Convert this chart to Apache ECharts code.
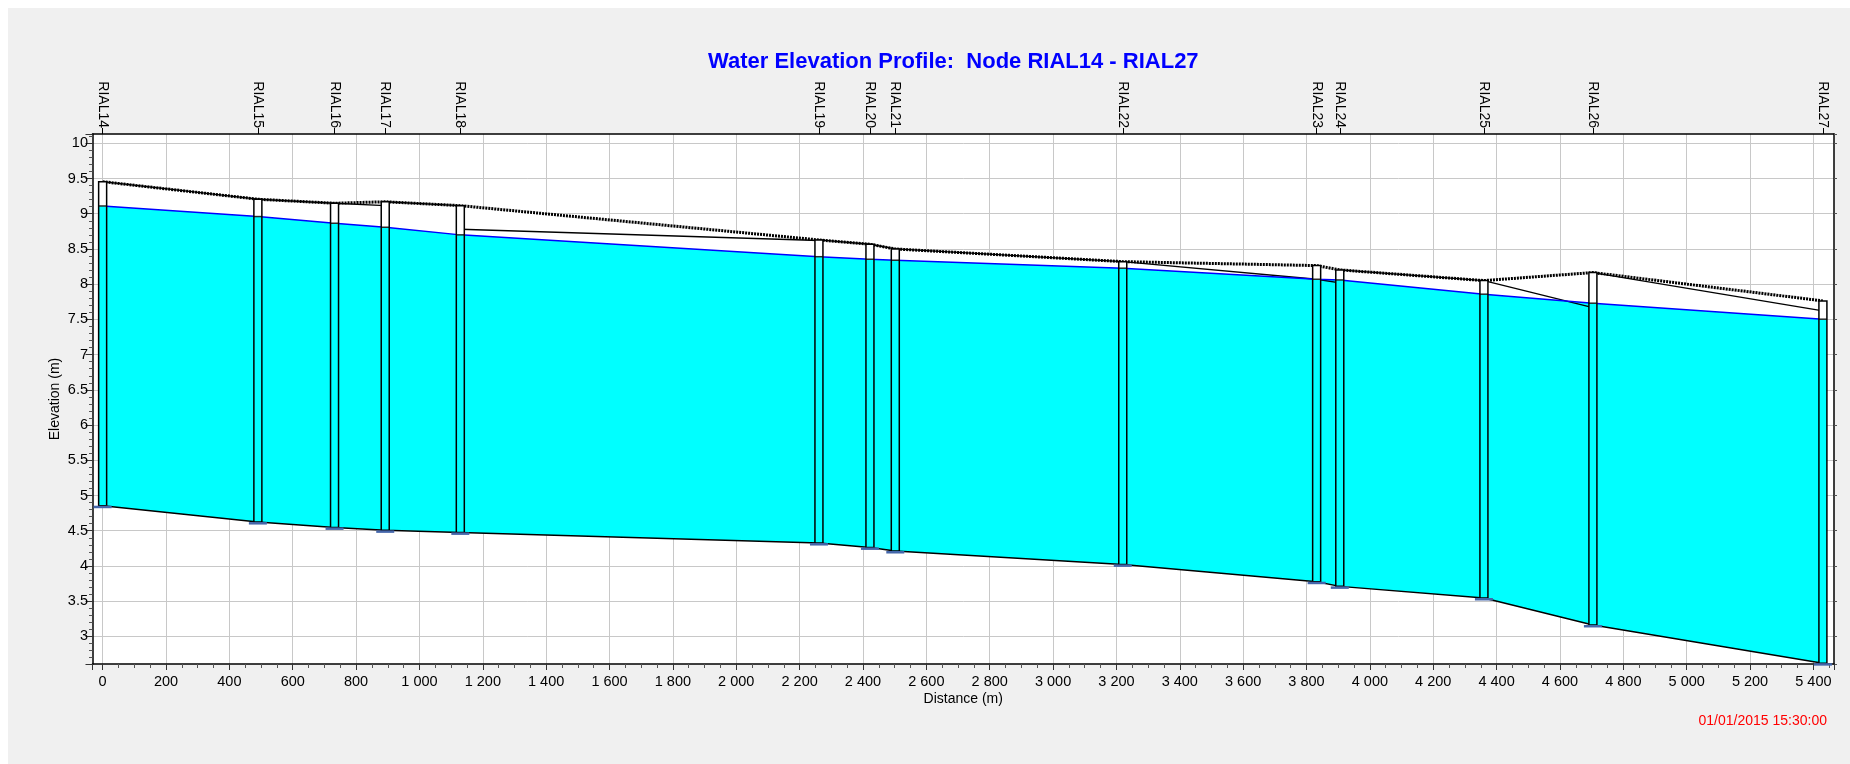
<!DOCTYPE html>
<html>
<head>
<meta charset="utf-8">
<script src="https://cdn.jsdelivr.net/npm/echarts@6/dist/echarts.min.js"></script>
<style>
  html, body { margin: 0; padding: 0; background: #ffffff; width: 1850px; height: 764px; overflow: hidden; }
  #chart { position: absolute; left: 8px; top: 8px; width: 1842px; height: 756px; background: #f0f0f0; }
</style>
</head>
<body>
<div id="chart"></div>
<script>
// ---- data ----
const nodeNames = ['RIAL14','RIAL15','RIAL16','RIAL17','RIAL18','RIAL19','RIAL20','RIAL21','RIAL22','RIAL23','RIAL24','RIAL25','RIAL26','RIAL27'];
const nodeDist   = [0, 490, 732, 892, 1129, 2261, 2422, 2502, 3220, 3832, 3905, 4360, 4704, 5430];
const rimElev    = [9.455, 9.206, 9.149, 9.170, 9.115, 8.628, 8.567, 8.500, 8.320, 8.264, 8.203, 8.051, 8.165, 7.763];
const waterElev  = [9.110, 8.960, 8.865, 8.808, 8.700, 8.390, 8.354, 8.340, 8.227, 8.070, 8.060, 7.858, 7.730, 7.503];
const invertElev = [4.855, 4.623, 4.547, 4.505, 4.476, 4.325, 4.263, 4.212, 4.022, 3.776, 3.710, 3.545, 3.162, 2.620];
// conduit crown elevation at upstream / downstream end of each link (node i -> node i+1)
const crownUp    = [9.455, 9.206, 9.149, 9.170, 8.780, 8.628, 8.567, 8.500, 8.320, 8.070, 8.203, 8.051, 8.165];
const crownDown  = [9.206, 9.149, 9.115, 9.115, 8.620, 8.567, 8.500, 8.320, 8.070, 8.020, 8.051, 7.668, 7.620];
const xRange = [-32, 5465];
const yRange = [2.608, 10.132];
const titleText = 'Water Elevation Profile:  Node RIAL14 - RIAL27';
const stampText = '01/01/2015 15:30:00';

const FONT = "'Liberation Sans', Arial, sans-serif";

function fmtX(v) {
  if (v >= 1000) {
    const t = Math.floor(v / 1000);
    const r = String(Math.round(v % 1000)).padStart(3, '0');
    return t + ' ' + r;
  }
  return String(v);
}

function polyRender(topArr, botArr, color) {
  return function (params, api) {
    const pts = [];
    for (let i = 0; i < nodeDist.length; i++) pts.push(api.coord([nodeDist[i], topArr[i]]));
    for (let i = nodeDist.length - 1; i >= 0; i--) pts.push(api.coord([nodeDist[i], botArr[i]]));
    return { type: 'polygon', shape: { points: pts }, style: { fill: color } };
  };
}

const chart = echarts.init(document.getElementById('chart'), null, { renderer: 'canvas' });

const linkData = crownUp.map((c, i) => [nodeDist[i], c, nodeDist[i + 1], crownDown[i]]);
const nodeData = nodeDist.map((d, i) => [d, rimElev[i], waterElev[i], invertElev[i]]);

const option = {
  animation: false,
  backgroundColor: '#f0f0f0',
  textStyle: { fontFamily: FONT },
  title: [
    {
      text: titleText,
      left: 695, top: 37.5,
      textStyle: { color: '#0000ff', fontSize: 22, fontWeight: 'bold', fontFamily: FONT }
    },
    {
      text: stampText,
      right: 18, top: 701.5,
      textStyle: { color: '#ff0000', fontSize: 14, fontWeight: 'normal', fontFamily: FONT }
    }
  ],
  grid: {
    left: 84.5, top: 126, right: 16, bottom: 100,
    show: true, backgroundColor: '#ffffff', borderWidth: 0,
    outerBoundsMode: 'none'
  },
  xAxis: [
    {
      type: 'value', position: 'bottom', min: xRange[0], max: xRange[1],
      minInterval: 200, maxInterval: 200,
      name: 'Distance (m)', nameLocation: 'middle', nameGap: 28, nameMoveOverlap: false,
      nameTextStyle: { color: '#000', fontSize: 14, fontFamily: FONT },
      axisLine: { show: true, onZero: false, lineStyle: { color: '#000', width: 1.5 } },
      axisTick: { show: true, inside: false, length: 6, lineStyle: { color: '#333' } },
      minorTick: { show: true, splitNumber: 4, length: 4, lineStyle: { color: '#555' } },
      axisLabel: { show: true, margin: 10, color: '#000', fontSize: 14.5, fontFamily: FONT,
                   showMinLabel: false, showMaxLabel: false, formatter: fmtX },
      splitLine: { show: true, showMinLine: false, showMaxLine: false, lineStyle: { color: '#c8c8c8', width: 1 } }
    },
    {
      type: 'value', position: 'top', min: xRange[0], max: xRange[1],
      minInterval: 200, maxInterval: 200,
      axisLine: { show: true, onZero: false, lineStyle: { color: '#000', width: 1.5 } },
      axisTick: { show: true, inside: false, length: 6, customValues: nodeDist, lineStyle: { color: '#000' } },
      axisLabel: { show: true, rotate: 90, margin: 6, color: '#000', fontSize: 14, fontFamily: FONT,
                   customValues: nodeDist,
                   formatter: function (v) { const k = nodeDist.indexOf(v); return k >= 0 ? nodeNames[k] : ''; } },
      splitLine: { show: false }
    }
  ],
  yAxis: [
    {
      type: 'value', position: 'left', min: yRange[0], max: yRange[1],
      minInterval: 0.5, maxInterval: 0.5,
      name: 'Elevation (m)', nameLocation: 'middle', nameGap: 30, nameRotate: 90, nameMoveOverlap: false,
      nameTextStyle: { color: '#000', fontSize: 14, fontFamily: FONT },
      axisLine: { show: true, onZero: false, lineStyle: { color: '#000', width: 1.5 } },
      axisTick: { show: true, inside: false, length: 7, lineStyle: { color: '#333' } },
      minorTick: { show: true, splitNumber: 5, length: 3.5, lineStyle: { color: '#555' } },
      axisLabel: { show: true, margin: 4.5, color: '#000', fontSize: 14.5, fontFamily: FONT,
                   showMinLabel: false, showMaxLabel: false },
      splitLine: { show: true, showMinLine: false, showMaxLine: false, lineStyle: { color: '#c8c8c8', width: 1 } }
    },
    {
      type: 'value', position: 'right', min: yRange[0], max: yRange[1],
      minInterval: 0.5, maxInterval: 0.5,
      axisLine: { show: true, onZero: false, lineStyle: { color: '#000', width: 1.5 } },
      axisTick: { show: true, inside: false, length: 3, lineStyle: { color: '#555' } },
      axisLabel: { show: false },
      splitLine: { show: false }
    }
  ],
  series: [
    {
      name: 'Ground fill', type: 'custom', z: 1, silent: true,
      data: [[nodeDist[0], rimElev[0]]],
      renderItem: polyRender(rimElev, invertElev, '#ffffff')
    },
    {
      name: 'Water fill', type: 'custom', z: 2, silent: true,
      data: [[nodeDist[0], waterElev[0]]],
      renderItem: polyRender(waterElev, invertElev, '#00ffff')
    },
    {
      name: 'Invert', type: 'line', z: 3, silent: true, symbol: 'none',
      data: nodeDist.map((d, i) => [d, invertElev[i]]),
      lineStyle: { color: '#000', width: 1.5 }
    },
    {
      name: 'Water surface', type: 'line', z: 3, silent: true, symbol: 'none',
      data: nodeDist.map((d, i) => [d, waterElev[i]]),
      lineStyle: { color: '#0000ff', width: 1.5 }
    },
    {
      name: 'Conduit crown', type: 'custom', z: 3, silent: true,
      data: linkData,
      renderItem: function (params, api) {
        const p1 = api.coord([api.value(0), api.value(1)]);
        const p2 = api.coord([api.value(2), api.value(3)]);
        return { type: 'line', shape: { x1: p1[0], y1: p1[1], x2: p2[0], y2: p2[1] },
                 style: { stroke: '#000', lineWidth: 1.3 } };
      }
    },
    {
      name: 'Ground', type: 'line', z: 3, silent: true, symbol: 'none',
      data: nodeDist.map((d, i) => [d, rimElev[i]]),
      lineStyle: { color: '#000', width: 3, type: [2, 1] }
    },
    {
      name: 'Nodes', type: 'custom', z: 4, silent: true,
      data: nodeData,
      renderItem: function (params, api) {
        const top = api.coord([api.value(0), api.value(1)]);
        const wy = api.coord([api.value(0), api.value(2)])[1];
        const by = api.coord([api.value(0), api.value(3)])[1];
        const cx = top[0];
        const w = 8;
        return {
          type: 'group',
          children: [
            { type: 'rect', shape: { x: cx - w / 2, y: top[1], width: w, height: wy - top[1] }, style: { fill: '#ffffff' } },
            { type: 'rect', shape: { x: cx - w / 2, y: wy, width: w, height: by - wy }, style: { fill: '#00ffff' } },
            { type: 'line', shape: { x1: cx - w / 2, y1: wy, x2: cx + w / 2, y2: wy }, style: { stroke: '#2a2a2a', lineWidth: 1.5 } },
            { type: 'rect', shape: { x: cx - w / 2, y: top[1], width: w, height: by - top[1] }, style: { fill: 'none', stroke: '#000', lineWidth: 1.5 } },
            { type: 'rect', shape: { x: cx - 9, y: by, width: 18, height: 2.5 }, style: { fill: '#4466aa' } }
          ]
        };
      }
    }
  ]
};

chart.setOption(option);
</script>
</body>
</html>
